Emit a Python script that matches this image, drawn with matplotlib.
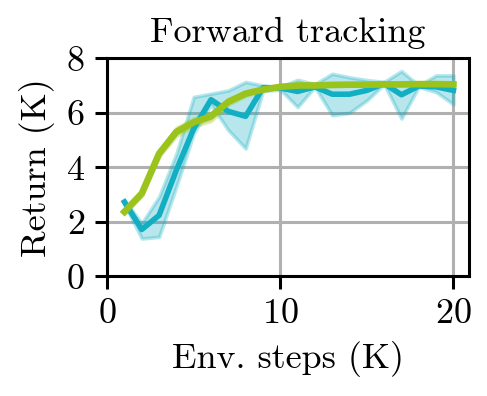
import numpy as np
from matplotlib import pyplot as plt

plt.rcParams["font.family"] = "serif"
plt.rcParams["font.serif"] = ["cmr10"]
plt.rcParams["mathtext.fontset"] = "cm"
plt.rcParams["axes.formatter.use_mathtext"] = True
plt.rcParams["font.size"] = 13

steps = np.arange(1, 21)

# cyan run: mean and band
cyan_mean = [2.73, 1.72, 2.24, 3.9, 5.42, 6.48, 6.05, 5.87, 6.92, 6.91,
             6.78, 6.95, 6.68, 6.68, 6.82, 7.07, 6.66, 6.98, 6.95, 6.82]
cyan_low = [2.65, 1.39, 1.45, 3.3, 5.24, 6.3, 5.36, 4.69, 6.8, 6.85,
            6.21, 6.95, 5.91, 6.0, 6.45, 7.05, 5.79, 6.95, 6.76, 6.31]
cyan_high = [2.8, 1.95, 2.92, 4.5, 6.58, 6.7, 6.82, 7.13, 7.0, 6.95,
             7.21, 7.05, 7.43, 7.3, 7.2, 7.13, 7.53, 7.0, 7.37, 7.37]

# green run: mean and band
green_mean = [2.37, 3.04, 4.5, 5.3, 5.65, 5.87, 6.4, 6.7, 6.85, 6.95,
              7.0, 7.0, 7.02, 7.03, 7.03, 7.04, 7.04, 7.05, 7.05, 7.04]
green_low = [2.3, 2.95, 4.4, 5.15, 5.5, 5.7, 6.3, 6.62, 6.8, 6.92,
             6.97, 6.97, 7.0, 7.0, 7.0, 7.01, 7.01, 7.02, 7.02, 7.01]
green_high = [2.44, 3.12, 4.6, 5.45, 5.8, 6.0, 6.5, 6.78, 6.9, 6.98,
              7.03, 7.03, 7.05, 7.06, 7.06, 7.07, 7.07, 7.08, 7.08, 7.07]

cyan = "#12afc3"
green = "#9ac31c"

fig, ax = plt.subplots(figsize=(2.435, 1.98), dpi=200)
fig.subplots_adjust(left=0.22, right=0.963, top=0.853, bottom=0.302)

ax.fill_between(steps, cyan_low, cyan_high, color=cyan, alpha=0.3, lw=1.3)
ax.plot(steps, cyan_mean, color=cyan, lw=2.0)
ax.fill_between(steps, green_low, green_high, color=green, alpha=0.3, lw=1.3)
ax.plot(steps, green_mean, color=green, lw=2.4)

ax.set_xlim(0, 20.9)
ax.set_ylim(0, 8)
ax.set_xticks([0, 10, 20])
ax.set_yticks([0, 2, 4, 6, 8])
ax.grid(True, color="#b0b0b0", lw=1.1)
ax.set_axisbelow(True)
for s in ax.spines.values():
    s.set_linewidth(1.1)
ax.tick_params(width=1.1, length=4.5)

ax.set_title("Forward tracking", fontsize=13)
ax.set_xlabel("Env. steps (K)")
ax.set_ylabel("Return (K)")

fig.savefig("out.png", dpi=200)
